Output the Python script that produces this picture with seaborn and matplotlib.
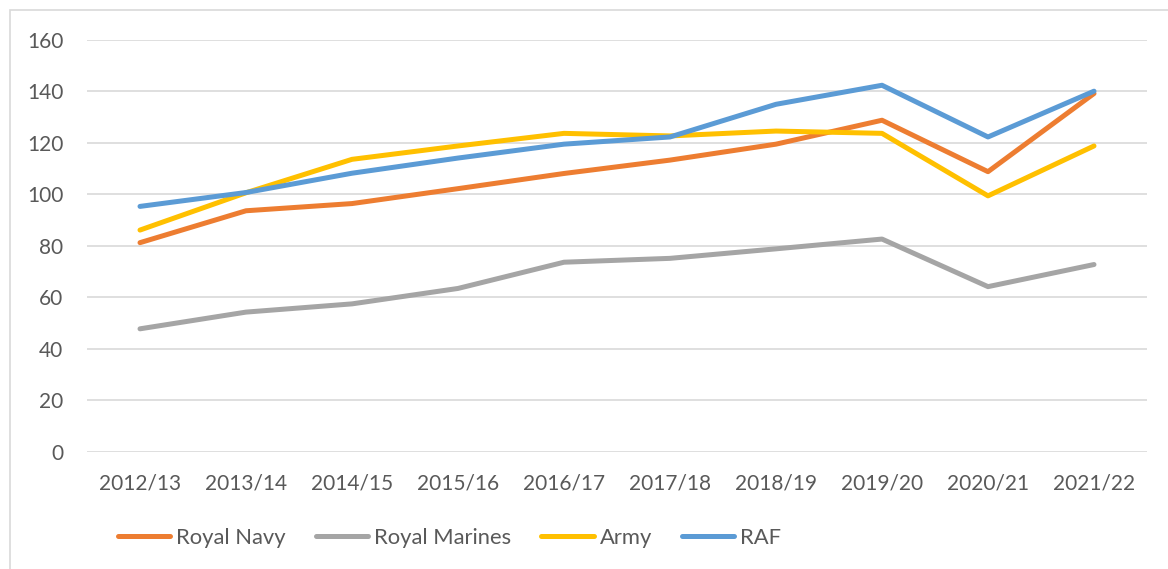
import matplotlib
matplotlib.use("Agg")
import matplotlib.pyplot as plt
from matplotlib.patches import Rectangle
import pandas as pd
import seaborn as sns

years = ["2012/13", "2013/14", "2014/15", "2015/16", "2016/17",
         "2017/18", "2018/19", "2019/20", "2020/21", "2021/22"]
royal_navy = [81.2, 93.6, 96.4, 102.2, 108.1, 113.3, 119.5, 128.8, 108.8, 139.2]
royal_marines = [47.7, 54.2, 57.4, 63.4, 73.6, 75.1, 78.8, 82.6, 64.1, 72.7]
army = [86.1, 100.6, 113.6, 118.8, 123.7, 122.7, 124.6, 123.7, 99.4, 118.8]
raf = [95.3, 100.7, 108.2, 114.1, 119.5, 122.3, 135.0, 142.4, 122.3, 140.1]

series = {"Royal Navy": royal_navy, "Royal Marines": royal_marines,
          "Army": army, "RAF": raf}
colors = {"Royal Navy": "#ED7D31", "Royal Marines": "#A5A5A5",
          "Army": "#FFC000", "RAF": "#5B9BD5"}

rows = []
for name, vals in series.items():
    for yr, v in zip(years, vals):
        rows.append({"Year": yr, "Value": v, "Service": name})
df = pd.DataFrame(rows)

sns.set_style("white")
plt.rcParams["font.family"] = ["Lato", "DejaVu Sans"]
text_color = "#595959"
fsize = 15

fig = plt.figure(figsize=(11.68, 5.69), dpi=100)
ax = fig.add_axes([87 / 1168, 1 - 451.5 / 569, (1147 - 87) / 1168, 411.5 / 569])

sns.lineplot(data=df, x="Year", y="Value", hue="Service", palette=colors,
             linewidth=3.6, sort=False, ax=ax, legend=True)
for line in ax.lines:
    line.set_solid_capstyle("round")
    line.set_solid_joinstyle("round")

ax.set_xlim(-0.5, len(years) - 0.5)
ax.set_ylim(0, 160)
ax.set_yticks(range(0, 161, 20))
ax.yaxis.grid(True, color="#D9D9D9", linewidth=1.2)
ax.set_axisbelow(True)
for s in ax.spines.values():
    s.set_visible(False)
ax.tick_params(axis="both", length=0, labelsize=fsize, labelcolor=text_color)
ax.tick_params(axis="y", pad=17)
ax.tick_params(axis="x", pad=16)
ax.set_xlabel("")
ax.set_ylabel("")

# legend row under the axis, like the spreadsheet original
handles, labels = ax.get_legend_handles_labels()
for h in handles:
    h.set_solid_capstyle("round")
ax.legend(handles, labels, loc="center left", bbox_to_anchor=(98 / 1168, 31 / 569),
          bbox_transform=fig.transFigure, ncol=4, frameon=False,
          fontsize=15.8, labelcolor=text_color, handlelength=2.4,
          handletextpad=0.27, columnspacing=1.35)

fig.patches.append(Rectangle((10 / 1168, -0.1), 1.2, 1 - 10 / 569 + 0.1,
                             transform=fig.transFigure, fill=False,
                             edgecolor="#D9D9D9", linewidth=1.2))

fig.savefig("out.png", dpi=100, facecolor="white")
